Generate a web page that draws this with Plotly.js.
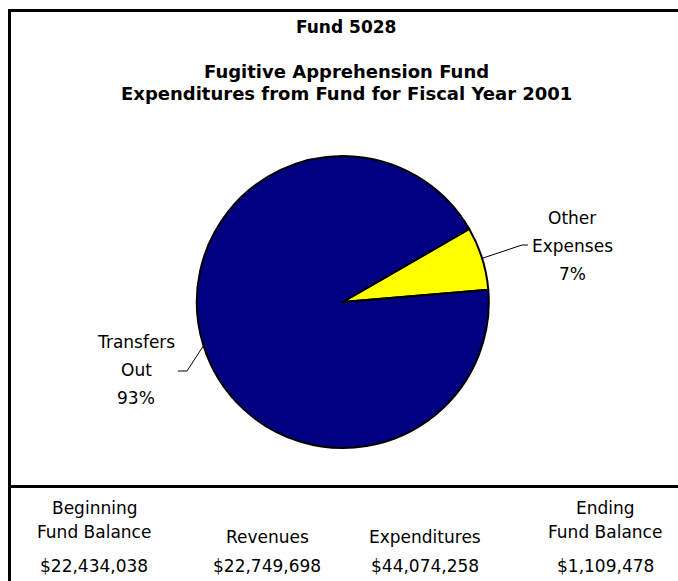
<!DOCTYPE html>
<html>
<head>
<meta charset="utf-8">
<script src="https://cdn.plot.ly/plotly-3.0.1.min.js"></script>
<style>html,body{margin:0;padding:0;background:#fff;}#chart{width:678px;height:581px;}</style>
</head>
<body>
<div id="chart"></div>
<script>
// ---- data ----
const sliceLabels = ['Other<br>Expenses', 'Transfers<br>Out'];
const sliceValues = [7, 93];
const sliceColors = ['#FFFF00', '#000080'];
const titleLines = ['Fund 5028', 'Fugitive Apprehension Fund', 'Expenditures from Fund for Fiscal Year 2001'];
const summaryHeaders = ['Beginning<br>Fund Balance', 'Revenues', 'Expenditures', 'Ending<br>Fund Balance'];
const summaryAmounts = [22434038, 22749698, 44074258, 1109478];

// ---- layout helpers (pixel -> paper) ----
const W = 678, H = 581;
const px = x => x / W;
const py = y => 1 - y / H;
const FONT = 'DejaVu Sans, Verdana, sans-serif';

// pie geometry
const cx = 342.8, cy = 302, R = 146;
const rotation = 60;

const annotations = [];
const shapes = [];

// titles
const titleY = [27, 71, 93];
const titleSize = [17, 18, 18];
titleLines.forEach((t, i) => {
  annotations.push({xref:'paper', yref:'paper', x:px(346), y:py(titleY[i]), text:'<b>'+t+'</b>',
    showarrow:false, xanchor:'center', yanchor:'middle', font:{family:FONT, size:titleSize[i], color:'#000'}});
});

// slice labels + leader lines, computed from the slice angles
const total = sliceValues.reduce((a,b)=>a+b,0);
const labelPos = [
  {x:572, y:[218, 246, 274], elbow:[[522,245],[528,245]]},
  {x:136, y:[342, 370, 398], elbow:[[187,371],[178,371]]}
];
let acc = 0;
sliceValues.forEach((v, i) => {
  const mid = rotation + (acc + v/2) / total * 360;
  acc += v;
  const a = mid * Math.PI / 180;
  const ex = cx + R * Math.sin(a), ey = cy - R * Math.cos(a);
  const lines = sliceLabels[i].split('<br>').concat([Math.round(v/total*100) + '%']);
  const lp = labelPos[i];
  lines.forEach((t, j) => {
    annotations.push({xref:'paper', yref:'paper', x:px(lp.x), y:py(lp.y[j]), text:t, showarrow:false,
      xanchor:'center', yanchor:'middle', font:{family:FONT, size:17, color:'#000'}});
  });
  const p = 'M' + px(ex) + ',' + py(ey) + ' L' + px(lp.elbow[0][0]) + ',' + py(lp.elbow[0][1]) +
            ' L' + px(lp.elbow[1][0]) + ',' + py(lp.elbow[1][1]);
  shapes.push({type:'path', xref:'paper', yref:'paper', path:p, line:{color:'#000', width:1}});
});

// summary table
const colX = [94, 267, 425, 605];
summaryHeaders.forEach((h, i) => {
  const parts = h.split('<br>');
  const ys = parts.length === 2 ? [508, 532] : [537];
  parts.forEach((t, j) => {
    annotations.push({xref:'paper', yref:'paper', x:px(colX[i]), y:py(ys[j]), text:t, showarrow:false,
      xanchor:'center', yanchor:'middle', font:{family:FONT, size:17, color:'#000'}});
  });
  annotations.push({xref:'paper', yref:'paper', x:px(colX[i]), y:py(566), text:'$' + summaryAmounts[i].toLocaleString('en-US'),
    showarrow:false, xanchor:'center', yanchor:'middle', font:{family:FONT, size:17, color:'#000'}});
});

// border and divider
shapes.push({type:'line', xref:'paper', yref:'paper', x0:px(9.5), x1:px(9.5), y0:py(9), y1:-0.05, line:{color:'#000', width:3}});
shapes.push({type:'line', xref:'paper', yref:'paper', x0:px(8), x1:1.05, y0:py(10.5), y1:py(10.5), line:{color:'#000', width:3}});
shapes.push({type:'line', xref:'paper', yref:'paper', x0:px(8), x1:1.05, y0:py(486.5), y1:py(486.5), line:{color:'#000', width:3}});

const trace = {
  type:'pie',
  labels: sliceLabels.map(s => s.replace('<br>', ' ')),
  values: sliceValues,
  sort:false,
  direction:'clockwise',
  rotation: rotation,
  textinfo:'none',
  hoverinfo:'label+percent',
  marker:{colors:sliceColors, line:{color:'#000', width:2}},
  domain:{x:[px(cx-R), px(cx+R)], y:[py(cy+R), py(cy-R)]},
  showlegend:false
};

const layout = {
  width:W, height:H,
  margin:{l:0, r:0, t:0, b:0},
  paper_bgcolor:'#fff', plot_bgcolor:'#fff',
  showlegend:false,
  annotations: annotations,
  shapes: shapes
};

Plotly.newPlot('chart', [trace], layout, {displayModeBar:false, staticPlot:true});
</script>
</body>
</html>
